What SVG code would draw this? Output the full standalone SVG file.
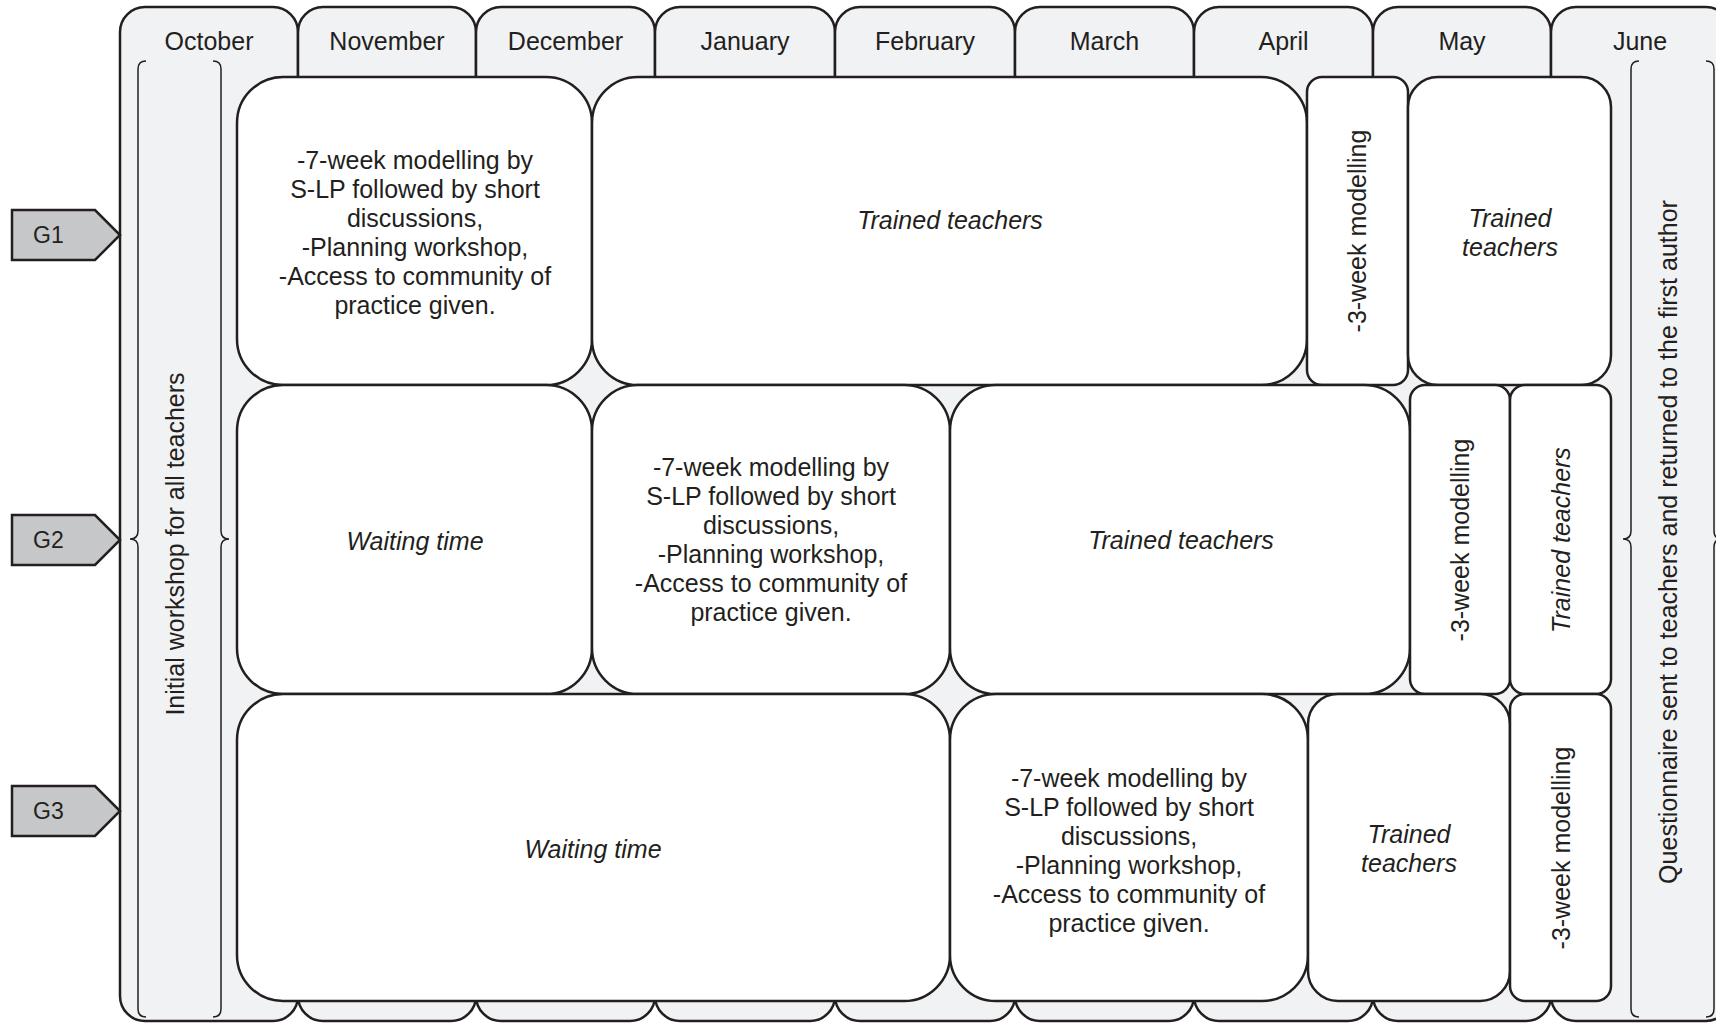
<svg xmlns="http://www.w3.org/2000/svg" width="1716" height="1024" viewBox="0 0 1716 1024">
<style>
.col{fill:#f1f2f4;stroke:#231f20;stroke-width:2.5}
.box{fill:#ffffff;stroke:#231f20;stroke-width:2.5}
.br{fill:none;stroke:#231f20;stroke-width:1.5}
.g{fill:#c6c7c9;stroke:#231f20;stroke-width:2.5}
.t{font-family:"Liberation Sans",Arial,Helvetica,sans-serif;font-size:25px;fill:#231f20;text-anchor:middle}
.gl{font-family:"Liberation Sans",Arial,Helvetica,sans-serif;font-size:23px;fill:#231f20}
.i{font-style:italic}
</style>
<rect width="1716" height="1024" fill="#ffffff"/>
<g id="months">
<g id="m-oct"><rect class="col" x="120" y="7" width="178" height="1014" rx="25"/><text class="t" x="209" y="50">October</text></g>
<g id="m-nov"><rect class="col" x="298" y="7" width="178" height="1014" rx="25"/><text class="t" x="387" y="50">November</text></g>
<g id="m-dec"><rect class="col" x="476" y="7" width="179" height="1014" rx="25"/><text class="t" x="565.5" y="50">December</text></g>
<g id="m-jan"><rect class="col" x="655" y="7" width="180" height="1014" rx="25"/><text class="t" x="745" y="50">January</text></g>
<g id="m-feb"><rect class="col" x="835" y="7" width="180" height="1014" rx="25"/><text class="t" x="925" y="50">February</text></g>
<g id="m-mar"><rect class="col" x="1015" y="7" width="179" height="1014" rx="25"/><text class="t" x="1104.5" y="50">March</text></g>
<g id="m-apr"><rect class="col" x="1194" y="7" width="179" height="1014" rx="25"/><text class="t" x="1283.5" y="50">April</text></g>
<g id="m-may"><rect class="col" x="1373" y="7" width="178" height="1014" rx="25"/><text class="t" x="1462" y="50">May</text></g>
<g id="m-jun"><rect class="col" x="1551" y="7" width="180" height="1014" rx="25"/><text class="t" x="1640" y="50">June</text></g>
</g>
<g id="initial-workshop">
<path class="br" d="M146,61 Q138,61 138,69 L138,531 C138,536 135,539 130,539 C135,539 138,542 138,547 L138,1009 Q138,1017 146,1017"/>
<path class="br" d="M213,61 Q221,61 221,69 L221,531 C221,536 224,539 229,539 C224,539 221,542 221,547 L221,1009 Q221,1017 213,1017"/>
<text class="t" transform="translate(184,544) rotate(-90)">Initial workshop for all teachers</text>
</g>
<g id="questionnaire">
<path class="br" d="M1639,61 Q1631,61 1631,69 L1631,531 C1631,536 1628,539 1623,539 C1628,539 1631,542 1631,547 L1631,1009 Q1631,1017 1639,1017"/>
<path class="br" d="M1706,61 Q1714,61 1714,69 L1714,531 C1714,536 1717,539 1722,539 C1717,539 1714,542 1714,547 L1714,1009 Q1714,1017 1706,1017"/>
<text class="t" transform="translate(1677,542) rotate(-90)">Questionnaire sent to teachers and returned to the first author</text>
</g>
<g id="G1"><polygon class="g" points="12,210 95,210 120,235 95,260 12,260"/><text class="gl" x="33" y="243">G1</text></g>
<g id="G2"><polygon class="g" points="12,515 95,515 120,540 95,565 12,565"/><text class="gl" x="33" y="548">G2</text></g>
<g id="G3"><polygon class="g" points="12,786 95,786 120,811 95,836 12,836"/><text class="gl" x="33" y="819">G3</text></g>
<g id="g1-modelling"><rect class="box" x="237" y="77" width="355" height="308" rx="46"/>
<text class="t"><tspan x="415" y="169">-7-week modelling by</tspan><tspan x="415" y="198">S-LP followed by short</tspan><tspan x="415" y="227">discussions,</tspan><tspan x="415" y="256">-Planning workshop,</tspan><tspan x="415" y="285">-Access to community of</tspan><tspan x="415" y="314">practice given.</tspan></text></g>
<g id="g1-trained"><rect class="box" x="592" y="77" width="715" height="308" rx="46"/><text class="t i" x="950" y="229">Trained teachers</text></g>
<g id="g1-3week"><rect class="box" x="1307" y="77" width="101" height="308" rx="15"/><text class="t" transform="translate(1366,231) rotate(-90)">-3-week modelling</text></g>
<g id="g1-trained2"><rect class="box" x="1408" y="77" width="203" height="308" rx="30"/><text class="t i"><tspan x="1510" y="227">Trained</tspan><tspan x="1510" y="256">teachers</tspan></text></g>
<g id="g2-waiting"><rect class="box" x="237" y="385" width="355" height="309" rx="46"/><text class="t i" x="415" y="550">Waiting time</text></g>
<g id="g2-modelling"><rect class="box" x="592" y="385" width="358" height="309" rx="46"/>
<text class="t"><tspan x="771" y="476">-7-week modelling by</tspan><tspan x="771" y="505">S-LP followed by short</tspan><tspan x="771" y="534">discussions,</tspan><tspan x="771" y="563">-Planning workshop,</tspan><tspan x="771" y="592">-Access to community of</tspan><tspan x="771" y="621">practice given.</tspan></text></g>
<g id="g2-trained"><rect class="box" x="950" y="385" width="460" height="309" rx="46"/><text class="t i" x="1181" y="549">Trained teachers</text></g>
<g id="g2-3week"><rect class="box" x="1410" y="385" width="100" height="309" rx="15"/><text class="t" transform="translate(1469,540) rotate(-90)">-3-week modelling</text></g>
<g id="g2-trained2"><rect class="box" x="1510" y="385" width="101" height="309" rx="15"/><text class="t i" transform="translate(1570,540) rotate(-90)">Trained teachers</text></g>
<g id="g3-waiting"><rect class="box" x="237" y="694" width="713" height="307" rx="46"/><text class="t i" x="593" y="858">Waiting time</text></g>
<g id="g3-modelling"><rect class="box" x="950" y="694" width="358" height="307" rx="46"/>
<text class="t"><tspan x="1129" y="787">-7-week modelling by</tspan><tspan x="1129" y="816">S-LP followed by short</tspan><tspan x="1129" y="845">discussions,</tspan><tspan x="1129" y="874">-Planning workshop,</tspan><tspan x="1129" y="903">-Access to community of</tspan><tspan x="1129" y="932">practice given.</tspan></text></g>
<g id="g3-trained"><rect class="box" x="1308" y="694" width="202" height="307" rx="30"/><text class="t i"><tspan x="1409" y="843">Trained</tspan><tspan x="1409" y="872">teachers</tspan></text></g>
<g id="g3-3week"><rect class="box" x="1510" y="694" width="101" height="307" rx="15"/><text class="t" transform="translate(1570,848) rotate(-90)">-3-week modelling</text></g>
<g id="connectors"></g>
</svg>
